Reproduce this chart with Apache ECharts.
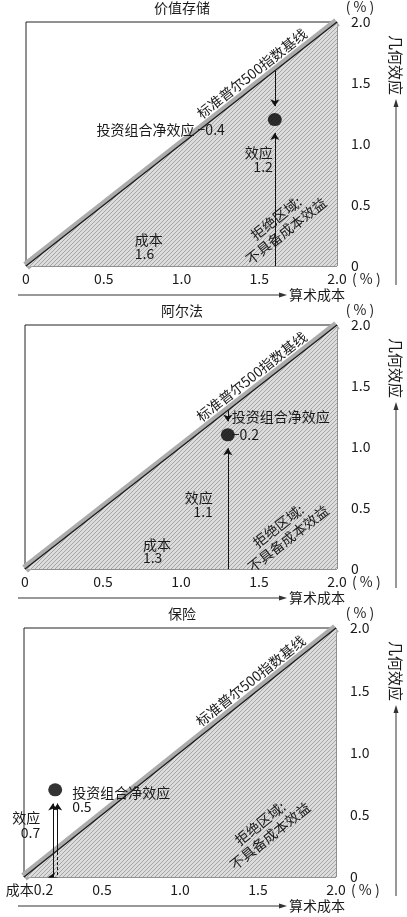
<!DOCTYPE html>
<html><head><meta charset="utf-8">
<script src="https://cdn.jsdelivr.net/npm/echarts@6.0.0/dist/echarts.min.js"></script>
<style>html,body{margin:0;padding:0;background:#fff;}#c{width:407px;height:917px;}</style>
</head><body><div id="c"></div>
<script>
// ---- data ----
const panelTitles = ['价值存储', '阿尔法', '保险'];
const costs = [1.6, 1.3, 0.2];
const effects = [1.2, 1.1, 0.7];
const netEffects = [-0.4, -0.2, 0.5];
const baselineX = [0, 2];
const baselineY = [0, 2];
const xTicks = [0, 0.5, 1.0, 1.5, 2.0];
const yTicks = [0, 0.5, 1.0, 1.5, 2.0];
const baselineLabel = '标准普尔500指数基线';
const rejectLabel = ['拒绝区域:', '不具备成本效益'];
const xAxisName = '算术成本';
const yAxisName = '几何效应';
const unitLabel = '( % )';
const netLabel = '投资组合净效应';
const effectLabel = '效应';
const costLabel = '成本';

// ---- layout / style ----
const FONT = '"Noto Sans CJK SC", "Noto Sans", sans-serif';
const TXT = '#1a1a1a';
const grids = [
  {left: 26, top: 22, width: 311, height: 244},
  {left: 25, top: 325, width: 312, height: 244},
  {left: 24, top: 628, width: 312, height: 249}
];
const labelLayout = [
  {net: {dx: -50, dy: 3, align: 'right', lh: 14, join: ' '}, eff: {dx: -2, dy: 26, lh: 14}, cost: {x: 0.70, dy: -33, lh: 14}, reject: [1.64, 0.34]},
  {net: {dx: 4, dy: -27, align: 'left', lh: 18, join: '\n'}, eff: {dx: -15, dy: 56, lh: 14}, cost: {x: 0.756, dy: -31, lh: 13}, reject: [1.655, 0.30]},
  {net: {dx: 17, dy: -4, align: 'left', lh: 14, join: '\n'}, eff: {dx: -15, dy: 20, lh: 15}, cost: {axis: true}, reject: [1.545, 0.38]}
];
const ARROW_GAP = 0.11;

function fmt(v) { return v < 0 ? '−' + Math.abs(v).toFixed(1) : v.toFixed(1); }

function makeHatch() {
  const c = document.createElement('canvas');
  c.width = 4; c.height = 4;
  const g = c.getContext('2d');
  g.fillStyle = '#dcdcdc'; g.fillRect(0, 0, 4, 4);
  g.strokeStyle = '#a6a6a6'; g.lineWidth = 1;
  g.beginPath();
  g.moveTo(0, 4); g.lineTo(4, 0);
  g.moveTo(-1, 1); g.lineTo(1, -1);
  g.moveTo(3, 5); g.lineTo(5, 3);
  g.stroke();
  return c;
}

const chart = echarts.init(document.getElementById('c'), null, {renderer: 'canvas'});
const hatch = makeHatch();
const xAxes = [], yAxes = [], series = [];

grids.forEach((g, i) => {
  xAxes.push({
    type: 'value', gridIndex: i, min: xTicks[0], max: xTicks[xTicks.length - 1], interval: xTicks[1] - xTicks[0],
    axisLine: {show: false}, axisTick: {show: false}, splitLine: {show: false},
    axisLabel: {margin: 6, fontSize: 14, color: TXT, fontFamily: FONT,
      formatter: v => (i === 2 && v === 0) ? '' : (v === 0 ? '0' : v.toFixed(1))}
  });
  yAxes.push({
    type: 'value', gridIndex: i, position: 'right', min: yTicks[0], max: yTicks[yTicks.length - 1], interval: yTicks[1] - yTicks[0],
    axisLine: {show: false}, axisTick: {show: false}, splitLine: {show: false},
    axisLabel: {margin: 14, fontSize: 14, color: TXT, fontFamily: FONT,
      formatter: v => v === 0 ? '0' : v.toFixed(1)}
  });
  const base = baselineX.map((x, k) => [x, baselineY[k]]);
  series.push({type: 'line', xAxisIndex: i, yAxisIndex: i, data: base, symbol: 'none', silent: true, clip: true, z: 1,
    lineStyle: {color: '#acacac', width: 9}});
  series.push({type: 'line', xAxisIndex: i, yAxisIndex: i, data: base, symbol: 'none', silent: true, clip: true, z: 2,
    lineStyle: {color: '#1a1a1a', width: 1.3},
    areaStyle: {color: {image: hatch, repeat: 'repeat'}, opacity: 1}});

  const c = costs[i], e = effects[i], n = netEffects[i];
  let xEff = c, xNet = c;
  if (n > 0) { xEff = c - 0.015; xNet = c + 0.015; }
  const netEnd = n < 0 ? e + ARROW_GAP : e - ARROW_GAP;
  const arrows = [
    {coords: [[xNet, c], [xNet, netEnd]]},
    {coords: [[xEff, 0], [xEff, e - ARROW_GAP]]}
  ];
  if (n > 0) arrows.push({coords: [[xNet, 0], [xNet - 0.06, 0]]});
  series.push({type: 'lines', coordinateSystem: 'cartesian2d', xAxisIndex: i, yAxisIndex: i, z: 3, silent: true,
    symbol: ['none', 'arrow'], symbolSize: 7,
    lineStyle: {color: '#111', width: 1, opacity: 1}, data: arrows});
  if (n > 0) {
    series.push({type: 'lines', coordinateSystem: 'cartesian2d', xAxisIndex: i, yAxisIndex: i, z: 3, silent: true,
      symbol: 'none', lineStyle: {color: '#111', width: 1, opacity: 1, type: [3, 2]},
      data: [{coords: [[xNet, c], [xNet, 0]]}]});
  }
  series.push({type: 'scatter', xAxisIndex: i, yAxisIndex: i, z: 5, silent: true,
    data: [[c, e]], symbol: 'circle', symbolSize: [14, 13], itemStyle: {color: '#000'}});
});

chart.setOption({
  animation: false,
  backgroundColor: '#fff',
  grid: grids.map(g => Object.assign({show: true, borderColor: '#222', borderWidth: 1, backgroundColor: '#fff'}, g)),
  xAxis: xAxes, yAxis: yAxes, series: series
});

function txt(text, x, y, o) {
  o = o || {};
  return {type: 'text', x: x, y: y, rotation: o.rot || 0, z: 20, silent: true,
    style: {text: text, fill: TXT, fontSize: o.size || 14, fontFamily: FONT,
      align: o.align || 'left', verticalAlign: o.va || 'middle', lineHeight: o.lh || 16}};
}

const gr = [];
grids.forEach((g, i) => {
  const T = g.top, B = g.top + g.height, R = g.left + g.width;
  const px = d => chart.convertToPixel({gridIndex: i}, d);
  const p0 = px([baselineX[0], baselineY[0]]), p2 = px([baselineX[1], baselineY[1]]);
  const ang = Math.atan2(p0[1] - p2[1], p2[0] - p0[0]);
  const lay = labelLayout[i];
  gr.push(txt(panelTitles[i], 182, T - 14, {align: 'center'}));
  gr.push(txt(unitLabel, 360, T - 15, {align: 'center'}));
  gr.push(txt(unitLabel, R + 15, B + 13, {align: 'left'}));
  const ya = B + 29;
  gr.push({type: 'line', silent: true, shape: {x1: 18, y1: ya, x2: 282, y2: ya}, style: {stroke: '#333', lineWidth: 1}});
  gr.push({type: 'polygon', silent: true, shape: {points: [[287, ya], [279, ya - 2.5], [279, ya + 2.5]]}, style: {fill: '#333'}});
  gr.push(txt(xAxisName, 289, ya, {align: 'left'}));
  gr.push({type: 'line', silent: true, shape: {x1: 396, y1: T + 82, x2: 396, y2: B + 19}, style: {stroke: '#333', lineWidth: 1}});
  gr.push({type: 'polygon', silent: true, shape: {points: [[396, T + 77], [393.5, T + 85], [398.5, T + 85]]}, style: {fill: '#333'}});
  gr.push(txt(yAxisName, 396, T + 43, {align: 'center', rot: -Math.PI / 2, size: 15}));
  const a = px([1.5, 1.5]);
  gr.push(txt(baselineLabel, a[0] - Math.sin(ang) * 12, a[1] - Math.cos(ang) * 12, {align: 'center', rot: ang}));
  const r = px(lay.reject);
  gr.push(txt(rejectLabel.join('\n'), r[0], r[1], {align: 'center', rot: ang, lh: 16}));
  const c = costs[i], e = effects[i], n = netEffects[i];
  const d = px([c, e]);
  gr.push(txt(netLabel + lay.net.join + fmt(n), d[0] + lay.net.dx, d[1] + lay.net.dy, {align: lay.net.align, va: 'top', lh: lay.net.lh}));
  gr.push(txt(effectLabel + '\n' + fmt(e), d[0] + lay.eff.dx, d[1] + lay.eff.dy, {align: 'right', va: 'top', lh: lay.eff.lh}));
  if (lay.cost.axis) {
    const cp = px([c, 0]);
    gr.push(txt(costLabel + fmt(c), cp[0] - 2, B + 13, {align: 'right'}));
  } else {
    const cp = px([lay.cost.x, 0]);
    gr.push(txt(costLabel + '\n' + fmt(c), cp[0], B + lay.cost.dy, {align: 'left', va: 'top', lh: lay.cost.lh}));
  }
});
chart.setOption({graphic: gr});
</script>
</body></html>
